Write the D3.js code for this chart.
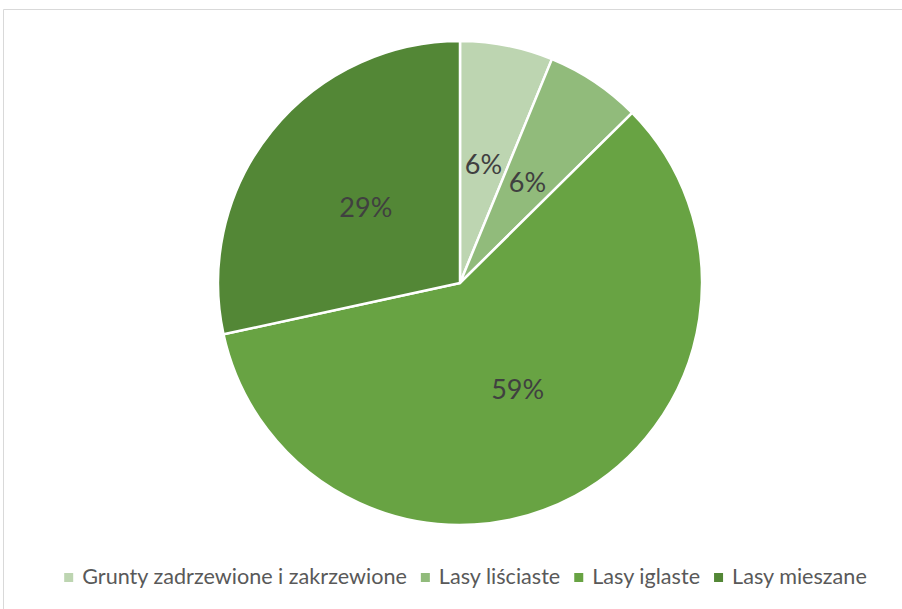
<!DOCTYPE html>
<html>
<head>
<meta charset="utf-8">
<script src="https://cdn.jsdelivr.net/npm/d3@7"></script>
<style>
  html, body { margin: 0; padding: 0; background: #fff; }
  svg { display: block; }
</style>
</head>
<body>
<svg id="chart" width="902" height="609"></svg>
<script>
// Land cover shares (percent)
const categories = ["Grunty zadrzewione i zakrzewione", "Lasy liściaste", "Lasy iglaste", "Lasy mieszane"];
const values = [6.2, 6.4, 59.0, 28.4];
const labels = ["6%", "6%", "59%", "29%"];
const colors = ["#bdd5b1", "#91bb7b", "#68a343", "#538736"];

const svg = d3.select("#chart");
const W = 902, H = 609;
const cx = 460, cy = 283, R = 242;
const fontFamily = "Lato, 'Open Sans', sans-serif";

// chart frame
svg.append("path")
  .attr("d", `M3.5,${H} V9.5 H${W}`)
  .attr("fill", "none")
  .attr("stroke", "#d9d9d9")
  .attr("stroke-width", 1);

const pie = d3.pie().sort(null).value(d => d)(values);
const arc = d3.arc().innerRadius(0).outerRadius(R);

const g = svg.append("g").attr("transform", `translate(${cx},${cy})`);

g.selectAll("path.slice")
  .data(pie)
  .join("path")
  .attr("class", "slice")
  .attr("d", arc)
  .attr("fill", (d, i) => colors[i])
  .attr("stroke", "#fff")
  .attr("stroke-width", 2.5)
  .attr("stroke-linejoin", "round");

g.selectAll("text.lbl")
  .data(pie)
  .join("text")
  .attr("class", "lbl")
  .attr("transform", d => `translate(${arc.centroid(d)})`)
  .attr("text-anchor", "middle")
  .attr("dy", "0.35em")
  .attr("font-family", fontFamily)
  .attr("font-size", 27)
  .attr("fill", "#404040")
  .text((d, i) => labels[i]);

// legend: swatch + label, items laid out left to right and centred
const legend = svg.append("g");
const fs = 21.6;
const box = 9, gapBox = 9, gapItem = 14;
const items = legend.selectAll("g.item")
  .data(categories)
  .join("g")
  .attr("class", "item");
items.append("rect")
  .attr("width", box).attr("height", box)
  .attr("y", -box / 2 - 6.5)
  .attr("fill", (d, i) => colors[i]);
items.append("text")
  .attr("x", box + gapBox)
  .attr("font-family", fontFamily)
  .attr("font-size", fs)
  .attr("fill", "#595959")
  .text(d => d);

let widths = [];
items.each(function () {
  widths.push(d3.select(this).select("text").node().getComputedTextLength());
});
const total = widths.reduce((a, w) => a + box + gapBox + w, 0) + gapItem * (widths.length - 1);
let x = 465.5 - total / 2;
items.each(function (d, i) {
  d3.select(this).attr("transform", `translate(${x},584)`);
  x += box + gapBox + widths[i] + gapItem;
});
</script>
</body>
</html>
